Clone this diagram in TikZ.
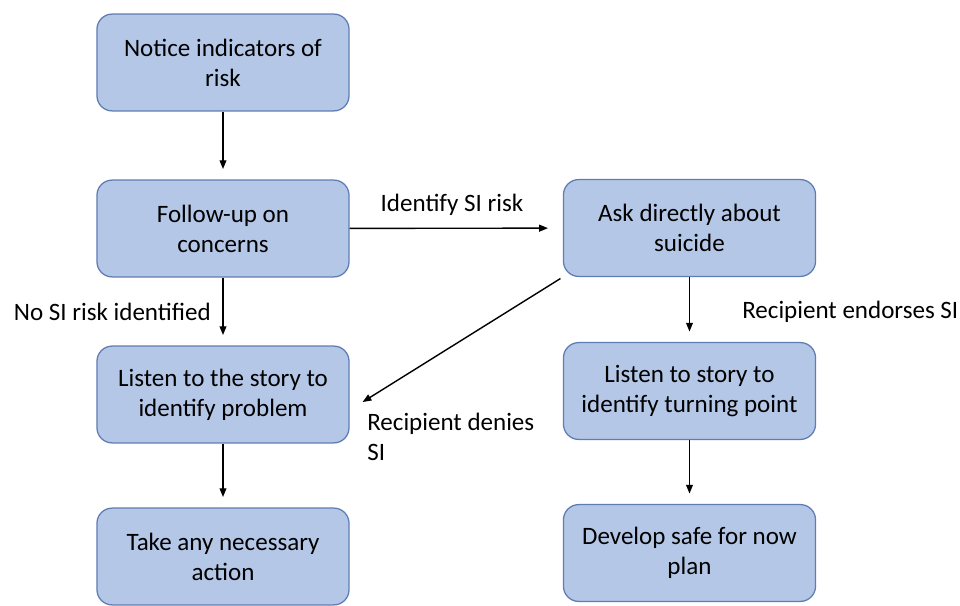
\documentclass[tikz,border=0pt]{standalone}
\usepackage{fontspec}
\setmainfont{Carlito}
\usetikzlibrary{arrows.meta}

\definecolor{boxFill}{HTML}{B4C7E7}
\definecolor{boxEdge}{HTML}{5E7DB3}

\tikzset{
  flowBox/.style={draw=boxEdge, fill=boxFill, line width=0.9pt, rounded corners=0.38cm,
    minimum width=6.3cm, minimum height=2.42cm, inner sep=0pt, align=center,
    font=\fontsize{17.8}{21.3}\selectfont},
  flowArrow/.style={-{Triangle[length=2.2mm,width=1.7mm]}, line width=1pt, shorten >=0.26cm},
  flowLabel/.style={inner sep=0pt, font=\fontsize{17.8}{21.3}\selectfont}
}

\begin{document}
\begin{tikzpicture}[x=0.025cm, y=-0.025cm]
\useasboundingbox (0,0) rectangle (960,605);

% left column
\node[flowBox] (notice) at (223,62.5) {Notice indicators of\\risk};
\node[flowBox] (followup) at (223,228.5) {Follow-up on\\concerns};
\node[flowBox] (listen) at (223,394.5) {Listen to the story to\\identify problem};
\node[flowBox] (action) at (223,556.5) {Take any necessary\\action};

% right column
\node[flowBox] (ask) at (689.5,228) {Ask directly about\\suicide};
\node[flowBox] (turning) at (689.5,391) {Listen to story to\\identify turning point};
\node[flowBox] (plan) at (689.5,553) {Develop safe for now\\plan};

% arrows
\draw[flowArrow] (notice) -- (followup);
\draw[flowArrow] (followup) -- (listen);
\draw[flowArrow] (listen) -- (action);
\draw[flowArrow, shorten >=0.37cm] (followup) -- (ask);
\draw[flowArrow] (ask) -- (turning);
\draw[flowArrow] (turning) -- (plan);
\draw[flowArrow, shorten >=0.38cm, shorten <=2pt] (ask.south west) -- ([yshift=-0.39cm]listen.east);

% labels
\node[flowLabel] (riskLabel) at (452,205) {Identify SI risk};
\node[flowLabel, anchor=east] (noRiskLabel) at (211,312) {No SI risk identified};
\node[flowLabel, anchor=west] (endorseLabel) at (742,312) {Recipient endorses SI};
\node[flowLabel, anchor=west, align=left] (denyLabel) at (367,437) {Recipient denies\\SI};
\end{tikzpicture}
\end{document}
